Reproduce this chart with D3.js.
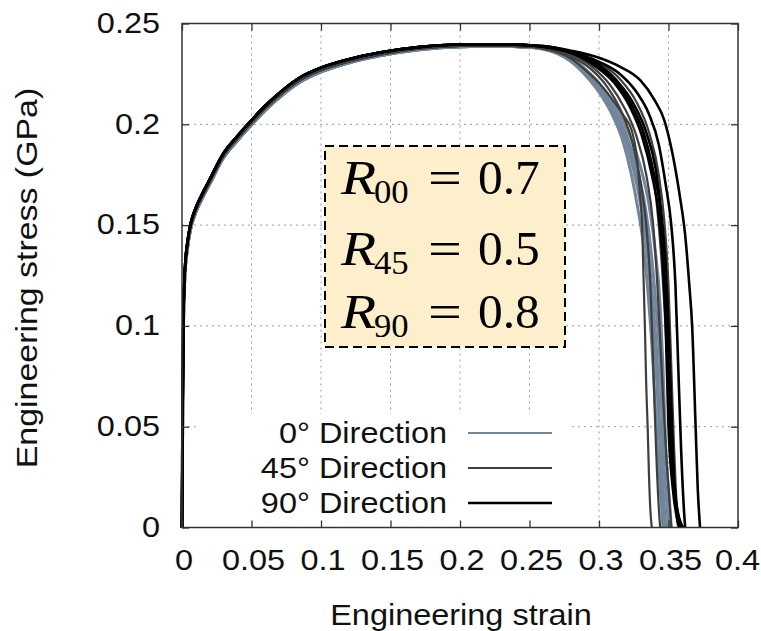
<!DOCTYPE html>
<html><head><meta charset="utf-8">
<script src="https://cdn.jsdelivr.net/npm/d3@7"></script>
<style>
body{margin:0;background:#fff}
text{font-family:"Liberation Sans",Arial,sans-serif;fill:#111}
</style>
</head><body>
<svg id="c" width="761" height="631"></svg>
<script>
// ---------------- data ----------------
const xTicks = [0, 0.05, 0.1, 0.15, 0.2, 0.25, 0.3, 0.35, 0.4];
const yTicks = [0, 0.05, 0.1, 0.15, 0.2, 0.25];
const directions = ["0° Direction", "45° Direction", "90° Direction"];
const rLabels = ["00", "45", "90"];
const rValues = ["0.7", "0.5", "0.8"];

// common hardening part (strain, stress GPa) per direction
const base0 = [[0,0],[0.0005,0.058],[0.001,0.098],[0.002,0.124],[0.004,0.139],[0.0063,0.1485],[0.010,0.1565],[0.014,0.1625],[0.020,0.1705],[0.0295,0.183],[0.040,0.192],[0.049,0.199],[0.060,0.207],[0.073,0.215],[0.085,0.221],[0.099,0.2257],[0.12,0.2305],[0.142,0.234],[0.17,0.237],[0.20,0.2385],[0.23,0.2388],[0.25,0.2382]];
const base45 = [[0,0],[0.0005,0.06],[0.001,0.10],[0.002,0.125],[0.004,0.140],[0.0063,0.1495],[0.010,0.1575],[0.014,0.1635],[0.020,0.1715],[0.0295,0.184],[0.040,0.193],[0.049,0.200],[0.060,0.208],[0.073,0.216],[0.085,0.222],[0.099,0.2266],[0.12,0.2312],[0.142,0.2346],[0.17,0.2375],[0.20,0.2389],[0.23,0.2391],[0.25,0.2385]];
const base90 = [[0,0],[0.0005,0.062],[0.001,0.102],[0.002,0.127],[0.004,0.142],[0.0063,0.151],[0.010,0.1588],[0.014,0.1648],[0.020,0.1728],[0.0295,0.1853],[0.040,0.1943],[0.049,0.2013],[0.060,0.2093],[0.073,0.2173],[0.085,0.2233],[0.099,0.2278],[0.12,0.2323],[0.142,0.2356],[0.17,0.2383],[0.20,0.2396],[0.23,0.2397],[0.25,0.2392]];

// necking / fracture part of every specimen
const tails0 = [
  [[0.26,0.2375],[0.27,0.2355],[0.28,0.2315],[0.29,0.2255],[0.30,0.2175],[0.31,0.2065],[0.318,0.194],[0.325,0.177],[0.33,0.16],[0.334,0.14],[0.338,0.11],[0.341,0.08],[0.344,0.04],[0.347,0.01],[0.348,0]],
  [[0.26,0.2378],[0.27,0.236],[0.28,0.2325],[0.29,0.2265],[0.30,0.219],[0.31,0.2085],[0.319,0.196],[0.327,0.179],[0.333,0.16],[0.337,0.14],[0.341,0.11],[0.344,0.08],[0.346,0.04],[0.349,0.01],[0.35,0]],
  [[0.26,0.2372],[0.27,0.235],[0.28,0.231],[0.29,0.2245],[0.30,0.216],[0.309,0.2055],[0.317,0.192],[0.323,0.176],[0.328,0.158],[0.332,0.14],[0.336,0.11],[0.339,0.08],[0.342,0.04],[0.345,0.01],[0.346,0]],
  [[0.26,0.2378],[0.27,0.2362],[0.28,0.233],[0.29,0.2275],[0.30,0.2205],[0.31,0.211],[0.32,0.198],[0.329,0.181],[0.336,0.16],[0.34,0.14],[0.344,0.11],[0.346,0.08],[0.348,0.04],[0.351,0.01],[0.352,0]],
  [[0.26,0.2375],[0.27,0.2355],[0.28,0.2318],[0.29,0.2258],[0.30,0.218],[0.31,0.2075],[0.318,0.195],[0.326,0.178],[0.331,0.16],[0.335,0.14],[0.339,0.11],[0.342,0.08],[0.344,0.04],[0.346,0.01],[0.347,0]]
];
const tails45 = [
  [[0.26,0.2375],[0.28,0.2325],[0.29,0.227],[0.30,0.2205],[0.31,0.212],[0.318,0.204],[0.3235,0.197],[0.327,0.185],[0.3295,0.165],[0.331,0.15],[0.332,0.125],[0.333,0.1],[0.334,0.07],[0.335,0.05],[0.336,0.025],[0.337,0.008],[0.338,0]],
  [[0.26,0.238],[0.28,0.2345],[0.295,0.2285],[0.308,0.2195],[0.318,0.2085],[0.327,0.194],[0.334,0.175],[0.339,0.15],[0.342,0.12],[0.345,0.08],[0.348,0.04],[0.351,0.01],[0.352,0]],
  [[0.26,0.2385],[0.28,0.2355],[0.298,0.2295],[0.312,0.221],[0.323,0.21],[0.332,0.195],[0.339,0.175],[0.343,0.15],[0.347,0.11],[0.35,0.07],[0.353,0.03],[0.356,0.005],[0.357,0]],
  [[0.26,0.2385],[0.28,0.236],[0.30,0.2305],[0.315,0.2225],[0.327,0.211],[0.336,0.196],[0.343,0.175],[0.347,0.152],[0.35,0.12],[0.352,0.08],[0.354,0.04],[0.356,0.01],[0.357,0]],
  [[0.26,0.2375],[0.28,0.2335],[0.294,0.2275],[0.306,0.2185],[0.316,0.2065],[0.324,0.191],[0.33,0.171],[0.334,0.15],[0.337,0.12],[0.339,0.08],[0.341,0.04],[0.343,0.01],[0.344,0]]
];
const tails90 = [
  [[0.26,0.2388],[0.28,0.2365],[0.30,0.233],[0.315,0.2286],[0.3295,0.222],[0.34,0.212],[0.347,0.202],[0.353,0.185],[0.358,0.165],[0.362,0.145],[0.365,0.12],[0.367,0.1],[0.3695,0.05],[0.371,0.02],[0.3727,0]],
  [[0.26,0.2388],[0.28,0.236],[0.30,0.231],[0.315,0.225],[0.327,0.216],[0.336,0.205],[0.343,0.19],[0.348,0.17],[0.352,0.15],[0.355,0.12],[0.357,0.08],[0.359,0.04],[0.361,0.01],[0.362,0]],
  [[0.26,0.2385],[0.28,0.2355],[0.298,0.2295],[0.312,0.221],[0.323,0.21],[0.332,0.196],[0.339,0.177],[0.344,0.158],[0.347,0.13],[0.349,0.1],[0.351,0.05],[0.354,0.02],[0.358,0.004],[0.3605,0]],
  [[0.26,0.2385],[0.28,0.2355],[0.297,0.229],[0.311,0.2205],[0.322,0.209],[0.331,0.194],[0.338,0.175],[0.343,0.155],[0.346,0.13],[0.348,0.1],[0.35,0.05],[0.353,0.02],[0.356,0.005],[0.358,0]],
  [[0.26,0.2385],[0.28,0.2355],[0.299,0.23],[0.313,0.2215],[0.325,0.21],[0.334,0.196],[0.341,0.177],[0.345,0.155],[0.348,0.13],[0.35,0.1],[0.352,0.06],[0.354,0.025],[0.357,0.006],[0.359,0]]
];

// ---------------- drawing ----------------
const svg = d3.select("#c");
const L = 182, R = 738, T = 23.5, B = 527.5;
const x = d3.scaleLinear().domain([0, 0.4]).range([L, R]);
const y = d3.scaleLinear().domain([0, 0.25]).range([B, T]);
const SX = 1.12; // horizontal text stretch

const colors = ["#72869b", "#3e3e3e", "#000000"];
const widths = [3.0, 2.2, 2.6];

// grid
const grid = svg.append("g").attr("stroke", "#9a9a9a").attr("stroke-width", 1).attr("stroke-dasharray", "2,4");
xTicks.slice(1, -1).forEach(t => grid.append("line").attr("x1", x(t)).attr("x2", x(t)).attr("y1", T).attr("y2", B));
yTicks.slice(1, -1).forEach(t => grid.append("line").attr("y1", y(t)).attr("y2", y(t)).attr("x1", L).attr("x2", R));

// legend background
svg.append("rect").attr("x", 198).attr("y", 414).attr("width", 370).attr("height", B - 414).attr("fill", "#fff");

// annotation box
svg.append("rect").attr("x", 325).attr("y", 146).attr("width", 240).attr("height", 201)
  .attr("fill", "#fdefcb").attr("stroke", "#000").attr("stroke-width", 2).attr("stroke-dasharray", "9,5");
const rBase = [194, 265, 328];
const serif = "'Liberation Serif','Times New Roman',serif";
rLabels.forEach((lab, i) => {
  const g = svg.append("g");
  g.append("text").attr("transform", `translate(341,${rBase[i]}) scale(1.2,1)`)
    .style("font-family", serif).style("font-style", "italic").style("font-size", "48px").style("fill", "#000").text("R");
  g.append("text").attr("transform", `translate(374,${rBase[i] + 9}) scale(1.05,1)`)
    .style("font-family", serif).style("font-size", "33px").style("fill", "#000").text(lab);
  g.append("text").attr("transform", `translate(445,${rBase[i]}) scale(1.25,1)`).attr("text-anchor", "middle")
    .style("font-family", serif).style("font-size", "48px").style("fill", "#000").text("=");
  g.append("text").attr("transform", `translate(478,${rBase[i]}) scale(1.03,1)`)
    .style("font-family", serif).style("font-size", "48px").style("fill", "#000").text(rValues[i]);
});

// curves
svg.append("clipPath").attr("id", "clip").append("rect").attr("x", L - 3).attr("y", T).attr("width", R - L + 3).attr("height", B - T + 1);
const line = d3.line().x(d => x(d[0])).y(d => y(d[1])).curve(d3.curveMonotoneX);
const sets = [[base0, tails0], [base45, tails45], [base90, tails90]];
const curves = svg.append("g").attr("clip-path", "url(#clip)").attr("fill", "none").attr("stroke-linejoin", "round");
sets.forEach(([base, tails], k) => {
  tails.forEach(t => {
    curves.append("path").attr("d", line(base.concat(t))).attr("stroke", colors[k]).attr("stroke-width", widths[k]);
  });
});

// legend
const legY = [433, 468, 503];
directions.forEach((d, i) => {
  svg.append("text").attr("transform", `translate(447,${legY[i] + 10}) scale(${SX},1)`)
    .attr("text-anchor", "end").style("font-size", "29px").text(d);
  svg.append("line").attr("x1", 468).attr("x2", 552).attr("y1", legY[i]).attr("y2", legY[i])
    .attr("stroke", colors[i]).attr("stroke-width", i === 2 ? 2.6 : 2.2);
});

// axes
const axisStyle = g => {
  g.select(".domain").remove();
  g.selectAll(".tick line").attr("stroke", "#333").attr("stroke-width", 1.3);
};
const xAx = svg.append("g").attr("transform", `translate(0,${B})`)
  .call(d3.axisBottom(x).tickValues(xTicks).tickSizeInner(-7).tickSizeOuter(0).tickPadding(22).tickFormat(d3.format("")));
axisStyle(xAx);
xAx.selectAll("text").style("font-size", "29px").attr("fill", "#111")
  .attr("transform", (d, i) => `translate(${i === xTicks.length - 1 ? -1 : 1.5},0) scale(${SX},1)`).attr("y", 22).attr("dy", "0.71em");
const yAx = svg.append("g").attr("transform", `translate(${L},0)`)
  .call(d3.axisLeft(y).tickValues(yTicks).tickSizeInner(-7).tickSizeOuter(0).tickPadding(22).tickFormat(d3.format("")));
axisStyle(yAx);
yAx.selectAll("text").style("font-size", "29px").attr("fill", "#111")
  .attr("x", -22 / SX).attr("transform", `scale(${SX},1)`).attr("dy", "0.3em");
const xTop = svg.append("g").attr("transform", `translate(0,${T})`)
  .call(d3.axisTop(x).tickValues(xTicks).tickSizeInner(-7).tickSizeOuter(0).tickFormat(""));
axisStyle(xTop);
const yRight = svg.append("g").attr("transform", `translate(${R},0)`)
  .call(d3.axisRight(y).tickValues(yTicks).tickSizeInner(-7).tickSizeOuter(0).tickFormat(""));
axisStyle(yRight);

// frame
svg.append("rect").attr("x", L).attr("y", T).attr("width", R - L).attr("height", B - T)
  .attr("fill", "none").attr("stroke", "#333").attr("stroke-width", 1.5);

// titles
svg.append("text").attr("transform", `translate(461,625) scale(${SX},1)`).attr("text-anchor", "middle")
  .style("font-size", "29px").text("Engineering strain");
svg.append("text").attr("transform", `translate(37,278) rotate(-90) scale(1.13,1)`).attr("text-anchor", "middle")
  .style("font-size", "30px").text("Engineering stress (GPa)");
</script>
</body></html>
